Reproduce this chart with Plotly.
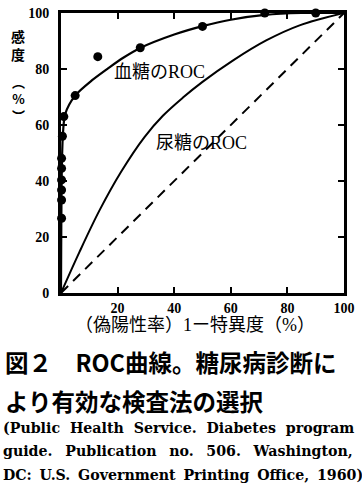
import plotly.graph_objects as go

# ---- data ----
blood_pts_x = [0.2, 0.2, 0.2, 0.2, 0.2, 0.2, 0.5, 1, 5, 13, 28, 50, 72, 90]
blood_pts_y = [26.7, 33.2, 36.8, 40.4, 44.5, 48.1, 56, 63, 70.5, 84.4, 87.6, 95.2, 100, 100]

blood_curve_x = [0, 0.3, 0.7, 1.5, 5, 11, 17, 22, 28, 40, 50, 60, 72, 85, 100]
blood_curve_y = [0, 45, 57, 64, 70.5, 76, 80.5, 84, 87.5, 92.3, 95.3, 97.6, 99.3, 100, 100]

urine_curve_x = [0, 6.5, 13.6, 21.3, 29.5, 36, 43.1, 50, 60.7, 72.5, 84.3, 100]
urine_curve_y = [0, 14.6, 29.5, 43.4, 55.7, 63.3, 69.8, 75.4, 83.0, 90.2, 95.6, 100]

chance_x = [0, 100]
chance_y = [0, 100]

x_ticks = [20, 40, 60, 80, 100]
y_ticks = [0, 20, 40, 60, 80, 100]

label_blood = "血糖のROC"
label_urine = "尿糖のROC"
x_title = "（偽陽性率）1ー特異度（%）"
y_title_top = "感<br>度"
y_title_unit = "︵<br>%<br>︶"
caption_lines = ["図２　ROC曲線。糖尿病診断に", "より有効な検査法の選択"]
cite_lines = [["(Public", "Health", "Service.", "Diabetes", "program"],
              ["guide.", "Publication", "no.", "506.", "Washington,"],
              ["DC:", "U.S.", "Government", "Printing", "Office,", "1960)"]]

W, H = 362, 488
L, T = 61, 13
PW, PH = 283, 280
R, B = W - L - PW, H - T - PH


def px(xp, yp):
    # reference-pixel position -> paper coordinates
    return (xp - L) / PW, (T + PH - yp) / PH


fig = go.Figure()
fig.add_trace(go.Scatter(x=chance_x, y=chance_y, mode="lines",
                         line=dict(color="black", width=2, dash="10px,7px"),
                         hoverinfo="skip"))
fig.add_trace(go.Scatter(x=urine_curve_x, y=urine_curve_y, mode="lines",
                         line=dict(color="black", width=2, shape="spline", smoothing=1.0),
                         hoverinfo="skip"))
fig.add_trace(go.Scatter(x=blood_curve_x, y=blood_curve_y, mode="lines",
                         line=dict(color="black", width=2.2, shape="spline", smoothing=0.8),
                         hoverinfo="skip"))
fig.add_trace(go.Scatter(x=blood_pts_x, y=blood_pts_y, mode="markers",
                         marker=dict(color="black", size=9),
                         cliponaxis=False, hoverinfo="skip"))

tickfont = dict(family="Liberation Serif", size=14, color="black", weight="bold")
common = dict(showline=True, linecolor="black", linewidth=3, mirror="ticks",
              ticks="inside", ticklen=6, tickwidth=2, tickcolor="black",
              showgrid=False, zeroline=False, tickfont=tickfont, automargin=False)
fig.update_xaxes(range=[0, 100], tickvals=x_ticks, ticktext=[str(v) for v in x_ticks], **common)
fig.update_yaxes(range=[0, 100], tickvals=y_ticks, ticktext=[str(v) for v in y_ticks],
                 ticklabelstandoff=6, **common)

ann = []
serif_cjk = "Liberation Serif, Noto Sans CJK JP"
x0, y0 = px(159, 72)
ann.append(dict(text=label_blood, x=x0, y=y0, font=dict(family=serif_cjk, size=18, color="black")))
x0, y0 = px(201, 143)
ann.append(dict(text=label_urine, x=x0, y=y0, font=dict(family=serif_cjk, size=18, color="black")))
x0, y0 = px(195, 325)
ann.append(dict(text=x_title, x=x0, y=y0, font=dict(family=serif_cjk, size=18, color="black")))
x0, y0 = px(18, 45)
ann.append(dict(text=y_title_top, x=x0, y=y0,
                font=dict(family="Noto Sans CJK JP", size=14, color="black", weight="bold")))
x0, y0 = px(18, 98)
ann.append(dict(text=y_title_unit, x=x0, y=y0,
                font=dict(family="Noto Sans CJK JP", size=13, color="black", weight="bold")))
for line, yp in zip(caption_lines, [362, 401]):
    x0, y0 = px(3, yp)
    ann.append(dict(text=line, x=x0, y=y0, xanchor="left",
                    font=dict(family="Noto Sans CJK JP", size=23.5, color="black", weight="bold")))
gaps = ["\u00a0\u00a0", "\u00a0\u00a0\u2009", "\u00a0\u2009"]
for words, yp, g in zip(cite_lines, [428, 451, 475], gaps):
    x0, y0 = px(1, yp)
    ann.append(dict(text=g.join(words), x=x0, y=y0, xanchor="left",
                    font=dict(family="DejaVu Serif", size=14.2, color="black", weight="bold")))
for a in ann:
    a.update(xref="paper", yref="paper", showarrow=False)
    a.setdefault("xanchor", "center")
    a.setdefault("yanchor", "middle")

fig.update_layout(width=W, height=H, margin=dict(l=L, r=R, t=T, b=B),
                  paper_bgcolor="white", plot_bgcolor="white", showlegend=False,
                  hovermode=False, annotations=ann)
fig.write_html("out.html", config={"displayModeBar": False},
               post_script="document.body.style.margin='0px';")
